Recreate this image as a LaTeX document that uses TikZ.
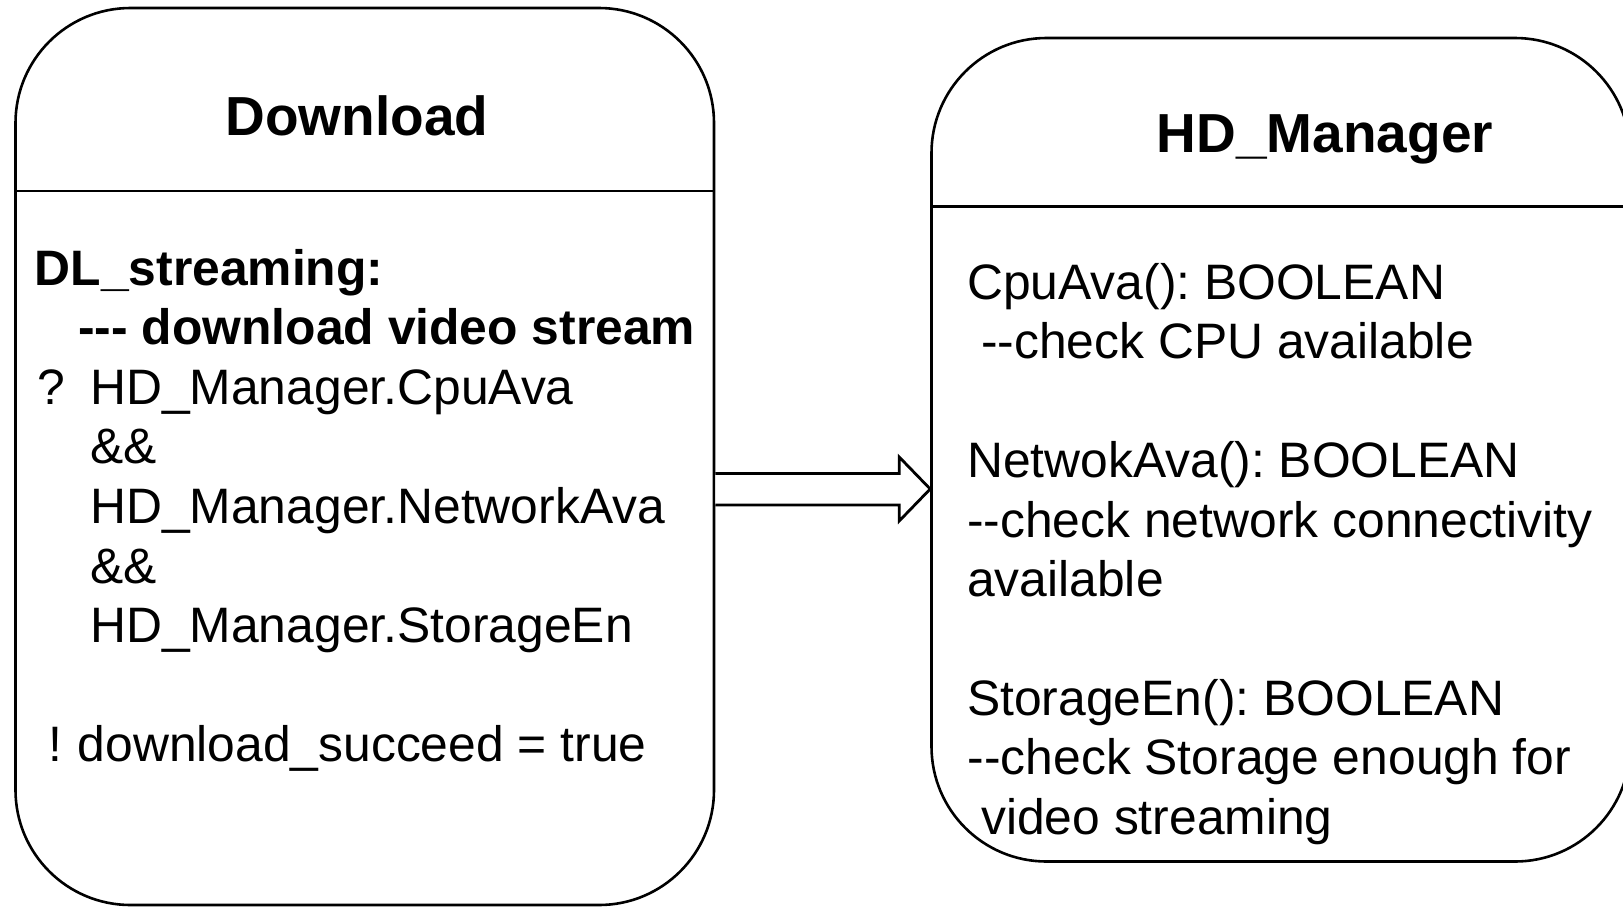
\documentclass[tikz,border=0pt]{standalone}
\usepackage{fontspec}
\setmainfont{Liberation Sans}
\usetikzlibrary{calc}
\begin{document}
\frenchspacing
\begin{tikzpicture}[x=1pt,y=-1pt,
  box/.style={draw=black, line width=2.6pt, rounded corners=115pt, fill=white,
    minimum width=698.5pt, inner sep=0pt},
  divider/.style={draw=black, line width=2.6pt},
  blockarrow/.style={draw=black, line width=2.8pt, fill=white, line join=miter},
  title/.style={font=\fontsize{55}{66}\selectfont\bfseries, anchor=base, inner sep=0pt},
  txt/.style={font=\fontsize{49.8}{59.4}\selectfont\frenchspacing, anchor=base west, inner sep=0pt},
  btxt/.style={font=\fontsize{49.8}{59.4}\selectfont\bfseries\frenchspacing, anchor=base west, inner sep=0pt},
  ]
\useasboundingbox (0,0) rectangle (1623,906);
\clip (0,0) rectangle (1623,906);

% the two state boxes
\node[box, minimum height=897pt] (dl) at (364.75,456.5) {};
\node[box, minimum height=823.5pt] (hd) at (1280.75,449.75) {};

% header separators
\draw[divider] (dl.west |- 0,191) -- (dl.east |- 0,191);
\draw[divider] (hd.west |- 0,206.5) -- (hd.east |- 0,206.5);

% titles
\node[title] (dlt) at (357,135) {Download};
\node[title] (hdt) at (1325,152) {HD\_Manager};

% Download body
\node[btxt] (l1) at (34.5,285) {DL\_streaming:};
\node[btxt] (l2) at (78,344.6) {-{}-{}- download video stream};
\node[txt] (l3) at (37,404.2) {\makebox[53pt][l]{?}HD\_Manager.CpuAva};
\node[txt] (l4) at (90,463.8) {\&\&};
\node[txt] (l5) at (90,523.4) {HD\_Manager.NetworkAva};
\node[txt] (l6) at (90,583) {\&\&};
\node[txt] (l7) at (90,642.6) {HD\_Manager.StorageEn};
\node[txt] (l8) at (48,761.8) {\makebox[29.5pt][l]{!}download\_succeed = true};

% HD_Manager body
\node[txt] (r1) at (967,299.5) {CpuAva(): BOOLEAN};
\node[txt] (r2) at (981,358.9) {-{}-check CPU available};
\node[txt] (r3) at (967,477.7) {NetwokAva(): BOOLEAN};
\node[txt] (r4) at (967,537.1) {-{}-check network connectivity};
\node[txt] (r5) at (967,596.5) {available};
\node[txt] (r6) at (967,715.3) {StorageEn(): BOOLEAN};
\node[txt] (r7) at (967.5,774.7) {-{}-check Storage enough for};
\node[txt] (r8) at (981,834.1) {video streaming};

% block arrow from Download to HD_Manager
\coordinate (tip) at (hd.west |- 0,489);
\draw[blockarrow]
  (dl.east |- 0,473.5) -- ($(tip)+(-31,-15.5)$) -- ($(tip)+(-31,-32)$) -- (tip)
  -- ($(tip)+(-31,32)$) -- ($(tip)+(-31,16)$) -- (dl.east |- 0,505);
\end{tikzpicture}
\end{document}
